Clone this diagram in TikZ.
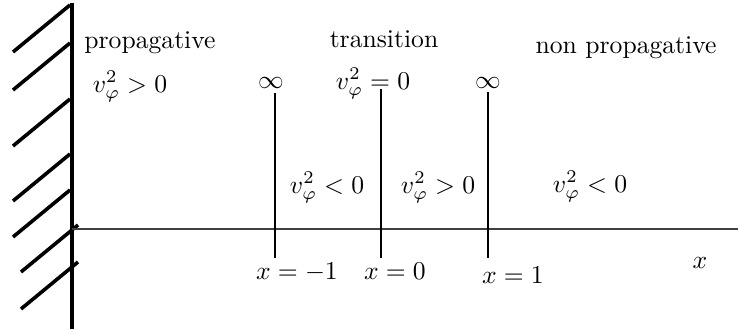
\documentclass[tikz,border=0pt]{standalone}
\usepackage{amsmath,amssymb}
\usetikzlibrary{positioning}
\tikzset{
  wall/.style={line width=1.5pt},
  hatch/.style={line width=1.4pt},
  axisline/.style={line width=0.6pt,black!75},
  mark line/.style={line width=0.45pt},
  lbl/.style={anchor=base,inner sep=0pt}
}
\begin{document}
\begin{tikzpicture}[x=0.39pt,y=-0.39pt]
  \useasboundingbox (0,0) rectangle (738,329);
  % wall and hatching
  \draw[wall] (72,3) -- (72,329);
  \foreach \xa/\ya in {70/5,70/43,70/99,70/154,70/190,78/225,78/262}
    \draw[hatch] (\xa,\ya) -- ++(-57,47);
  % axis
  \coordinate (o) at (72,229);
  \coordinate (xend) at (738,229);
  \draw[axisline] (o) -- (xend);
  \node[lbl] (xlbl) at (700,268) {$x$};
  % singular and turning points
  \foreach \name/\px/\top in {lm/275/93,lz/381/89,lp/488/92}{
    \coordinate (\name-t) at (\px,\top);
    \coordinate (\name-b) at (\px,258);
    \draw[mark line] (\name-t) -- (\name-b);
  }
  \node[lbl] (infl) at (271,88) {$\infty$};
  \node[lbl] (infr) at (488,88) {$\infty$};
  \node[lbl] (vzero) at (373,89) {$v_\varphi^2=0$};
  \node[lbl] (xm) at (297,279) {$x=-1$};
  \node[lbl] (xz) at (395,279) {$x=0$};
  \node[lbl] (xp) at (513,283) {$x=1$};
  % regions
  \node[lbl] (prop) at (150,48) {propagative};
  \node[lbl] (trans) at (384,47) {transition};
  \node[lbl] (nonprop) at (626,53) {non propagative};
  \node[lbl] (vpos) at (130,92) {$v_\varphi^2>0$};
  \node[lbl] (vneg1) at (327,193) {$v_\varphi^2<0$};
  \node[lbl] (vpos2) at (438,193) {$v_\varphi^2>0$};
  \node[lbl] (vneg2) at (590,192) {$v_\varphi^2<0$};
\end{tikzpicture}
\end{document}
